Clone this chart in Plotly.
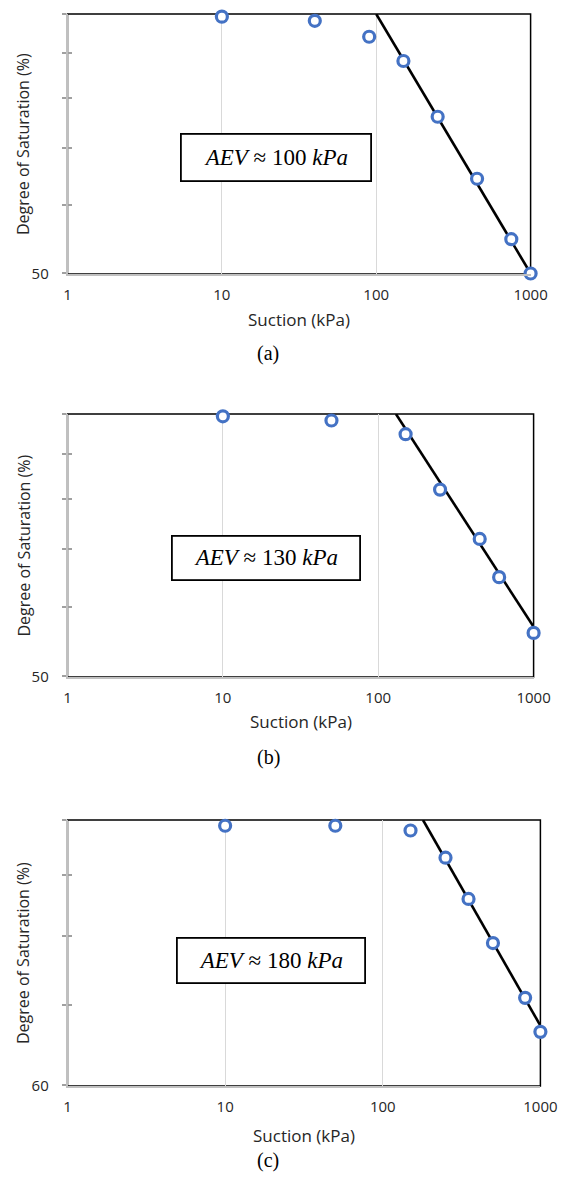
import plotly.graph_objects as go
import math

# Measured suction (kPa) and degree of saturation (%) for each sample
suction_a = [10, 40, 90, 150, 250, 450, 750, 1000]
sat_a = [99.3, 98.2, 94.1, 88.2, 76.0, 64.4, 54.8, 50.0]
fit_a_x = [100, 1000]
fit_a_y = [100, 50]

suction_b = [10, 50, 150, 250, 450, 600, 1000]
sat_b = [99.4, 98.3, 94.8, 81.9, 71.9, 65.0, 56.1]
fit_b_x = [130, 1000]
fit_b_y = [100, 57.0]

suction_c = [10, 50, 150, 250, 350, 500, 800, 1000]
sat_c = [98.9, 98.9, 98.0, 93.0, 85.9, 78.9, 71.0, 66.5]
fit_c_x = [180, 1000]
fit_c_y = [100, 67.3]

aev_labels = ["<i>AEV</i> ≈ 100 <i>kPa</i>", "<i>AEV</i> ≈ 130 <i>kPa</i>", "<i>AEV</i> ≈ 180 <i>kPa</i>"]
captions = ["(a)", "(b)", "(c)"]
y_min = [50, 50, 60]
y_ticks = [50, 60, 70, 80, 90, 100]
x_ticks = [1, 10, 100, 1000]
x_ticktext = ["1", "10", "100", "1000"]

W, H = 566, 1180

# Plot-area pixel boxes (left, right, top, bottom)
boxes = [(67.5, 530.6, 14, 274), (67.5, 533.6, 414, 677), (67.5, 540.4, 820, 1086)]
# AEV text box (left, right, top, bottom)
text_boxes = [(180, 372, 133, 182), (171, 361, 535, 581), (176, 366, 937, 984)]
title_y = [319, 721, 1135]
caption_y = [353, 757, 1160]
caption_x = 268

def px(x):
    return x / W

def py(y):
    return 1 - y / H

fig = go.Figure()
series = [(suction_a, sat_a, fit_a_x, fit_a_y),
          (suction_b, sat_b, fit_b_x, fit_b_y),
          (suction_c, sat_c, fit_c_x, fit_c_y)]

text_col = "#262626"
sans = "Open Sans, Liberation Sans, sans-serif"
tick_font = dict(family=sans, size=15, color=text_col)
layout = {}
annotations = []
shapes = []
for i, (sx, sy, fx, fy) in enumerate(series):
    n = "" if i == 0 else str(i + 1)
    xa, ya = "x" + n, "y" + n
    yo = "y" + str(i + 4)  # overlay axis carrying the inner half of the y ticks
    fig.add_trace(go.Scatter(x=fx, y=fy, mode="lines", xaxis=xa, yaxis=ya,
                             line=dict(color="black", width=2.6), showlegend=False,
                             cliponaxis=False))
    fig.add_trace(go.Scatter(x=sx, y=sy, mode="markers", xaxis=xa, yaxis=ya,
                             marker=dict(symbol="circle", size=11, color="white",
                                         line=dict(color="#4472C4", width=3.2)),
                             showlegend=False, cliponaxis=False))
    fig.add_trace(go.Scatter(x=[], y=[], xaxis=xa, yaxis=yo, showlegend=False))
    l, r, t, b = boxes[i]
    yr = [math.log10(y_min[i]) - 0.0006, 2]
    yv = [v for v in y_ticks if v >= y_min[i]]
    layout["xaxis" + n] = dict(
        type="log", range=[0, 3], domain=[px(l), px(r)], anchor=ya, automargin=False,
        tickvals=x_ticks, ticktext=x_ticktext, showgrid=True, gridcolor="#d9d9d9",
        gridwidth=1.2, showline=True, linecolor="#c0c0c0", linewidth=1.5,
        ticks="outside", ticklen=6, tickcolor="rgba(0,0,0,0)", tickfont=tick_font,
        zeroline=False, fixedrange=True)
    layout["yaxis" + n] = dict(
        type="log", range=yr, domain=[py(b), py(t)], anchor=xa, automargin=False,
        tickvals=yv, ticktext=[str(yv[0])] + [""] * (len(yv) - 1),
        showgrid=False, showline=True, linecolor="#c0c0c0", linewidth=1.5,
        ticks="outside", ticklen=4, tickwidth=2, tickcolor="#a0a0a0",
        ticklabelstandoff=10, tickfont=tick_font, zeroline=False, fixedrange=True)
    layout["yaxis" + str(i + 4)] = dict(
        type="log", range=yr, domain=[py(b), py(t)], anchor=xa, overlaying=ya,
        automargin=False, tickvals=yv, showticklabels=False, showgrid=False,
        showline=False, ticks="inside", ticklen=4, tickwidth=2, tickcolor="#a0a0a0",
        zeroline=False, fixedrange=True)
    # black frame on the top and right edges of the plot area
    shapes.append(dict(type="rect", xref=xa + " domain", yref=ya + " domain",
                       x0=0, x1=1, y0=0, y1=1, layer="below",
                       line=dict(color="black", width=1.5)))
    # axis titles
    annotations.append(dict(text="Degree of Saturation (%)", xref="paper", yref="paper",
                            x=px(23), y=py((t + b) / 2), textangle=-90, showarrow=False,
                            font=dict(family=sans, size=16, color=text_col),
                            xanchor="center", yanchor="middle"))
    annotations.append(dict(text="Suction (kPa)", xref="paper", yref="paper",
                            x=px((l + r) / 2), y=py(title_y[i]), showarrow=False,
                            font=dict(family=sans, size=17, color=text_col),
                            xanchor="center", yanchor="middle"))
    annotations.append(dict(text=captions[i], xref="paper", yref="paper",
                            x=px(caption_x), y=py(caption_y[i]), showarrow=False,
                            font=dict(family="Liberation Serif, serif", size=20, color="black"),
                            xanchor="center", yanchor="middle"))
    tl, tr, tt, tb = text_boxes[i]
    annotations.append(dict(text=aev_labels[i], xref="paper", yref="paper",
                            x=px((tl + tr) / 2), y=py((tt + tb) / 2), showarrow=False,
                            font=dict(family="Liberation Serif, serif", size=23, color="black"),
                            xanchor="center", yanchor="middle",
                            width=tr - tl - 6, height=tb - tt - 6,
                            bordercolor="black", borderwidth=1.8, borderpad=1,
                            bgcolor="white"))

fig.update_layout(width=W, height=H, margin=dict(l=0, r=0, t=0, b=0),
                  paper_bgcolor="white", plot_bgcolor="white",
                  annotations=annotations, shapes=shapes, **layout)
fig.write_html("out.html")
